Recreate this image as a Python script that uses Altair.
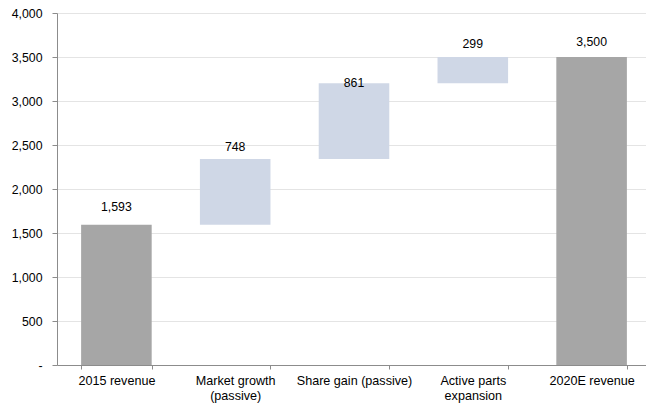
import altair as alt
import pandas as pd

# Revenue bridge, 2015 -> 2020E
categories = [
    "2015 revenue",
    "Market growth\n(passive)",
    "Share gain (passive)",
    "Active parts\nexpansion",
    "2020E revenue",
]
values = [1593, 748, 861, 299, 3500]
kinds = ["total", "step", "step", "step", "total"]
y_ticks = [0, 500, 1000, 1500, 2000, 2500, 3000, 3500, 4000]

# vertical nudge (px) of each value label relative to its bar top
label_dy = [-18, -12, 0, -13, -15]

rows = []
running = 0
for i, (cat, val, kind) in enumerate(zip(categories, values, kinds)):
    if kind == "total":
        start, end = 0, val
        running = val
    else:
        start, end = running, running + val
        running = end
    rows.append({"idx": i, "category": cat, "value": val, "kind": kind,
                 "start": start, "end": end})
df = pd.DataFrame(rows)

FONT = "Liberation Sans"

x_enc = alt.X(
    "category:N",
    sort=categories,
    scale=alt.Scale(range=[0, 594], paddingInner=0.406, paddingOuter=0.203),
    axis=alt.Axis(
        title=None,
        labelExpr="split(datum.label, '\\n')",
        labelAngle=0,
        labelFontSize=12.6,
        labelLineHeight=15,
        labelPadding=5,
        labelColor="#000000",
        tickSize=4,
        tickBand="extent",
        tickColor="#8c8c8c",
        domainColor="#8c8c8c",
        grid=False,
    ),
)

y_scale = alt.Scale(domain=[0, 4000], nice=False)

bars = alt.Chart(df).mark_bar().encode(
    x=x_enc,
    y=alt.Y(
        "start:Q",
        scale=y_scale,
        axis=alt.Axis(
            title=None,
            values=y_ticks,
            labelExpr="datum.value == 0 ? '-\u00a0\u00a0' : format(datum.value, ',')",
            labelFontSize=12.3,
            labelPadding=10,
            labelColor="#000000",
            tickSize=5,
            tickColor="#8c8c8c",
            domainColor="#8c8c8c",
            gridColor="#e4e4e4",
            gridWidth=1,
        ),
    ),
    y2="end:Q",
    color=alt.Color(
        "kind:N",
        scale=alt.Scale(domain=["total", "step"], range=["#a6a6a6", "#cfd7e6"]),
        legend=None,
    ),
)

text_layers = []
for i, dy in enumerate(label_dy):
    text_layers.append(
        alt.Chart(df)
        .transform_filter(alt.datum.idx == i)
        .mark_text(dy=dy, baseline="middle", fontSize=12.3, font=FONT, color="#000000")
        .encode(
            x=alt.X("category:N", sort=categories),
            y=alt.Y("end:Q", scale=y_scale),
            text=alt.Text("value:Q", format=","),
        )
    )

chart = (
    alt.layer(bars, *text_layers)
    .properties(
        width=589,
        height=352,
        autosize=alt.AutoSizeParams(type="none"),
        padding={"left": 57, "top": 13, "right": 0, "bottom": 38},
    )
    .configure(font=FONT, background="#ffffff")
    .configure_view(stroke=None)
    .configure_axis(labelFont=FONT)
)

chart.save("out.html", embed_options={"renderer": "svg", "actions": False})
